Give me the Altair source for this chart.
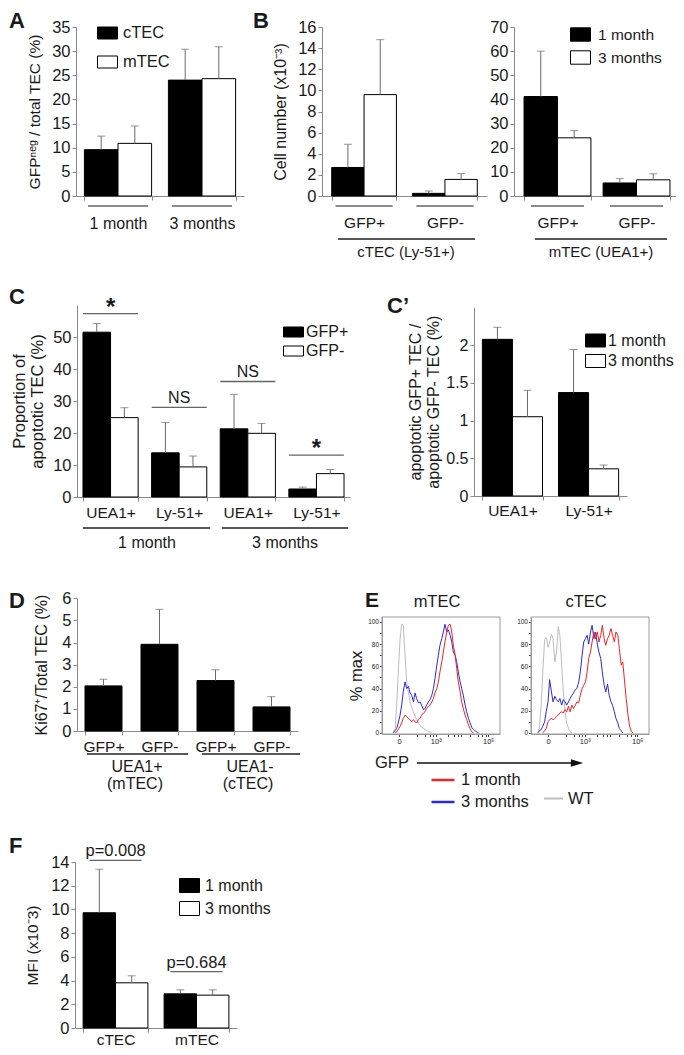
import math
import altair as alt
import pandas as pd

FONT = "Liberation Sans"
TXT = "#1a1a1a"
AXC = "#8a8a8a"
ERR = "#6a6a6a"
RED = "#f02424"
BLUE = "#2a2ae0"
GRAY = "#bdbdbd"
W, H = 668, 1039


def X(px):
    return px - 8


def Y(py):
    return py - 8


# ---------------- values ----------------
# Panel A
A_groups = ["1 month", "3 months"]
A_series = ["cTEC", "mTEC"]
A_cTEC = [9.6, 24.0]
A_cTEC_err = [2.8, 6.4]
A_mTEC = [10.9, 24.3]
A_mTEC_err = [3.6, 6.6]

# Panel B
B_groups = ["GFP+", "GFP-"]
B_series = ["1 month", "3 months"]
B_cTEC_1m = [2.7, 0.25]
B_cTEC_1m_err = [2.2, 0.22]
B_cTEC_3m = [9.6, 1.57]
B_cTEC_3m_err = [5.2, 0.55]
B_mTEC_1m = [41.2, 5.4]
B_mTEC_1m_err = [18.8, 1.8]
B_mTEC_3m = [24.1, 6.7]
B_mTEC_3m_err = [3.0, 2.5]
B_panel_names = ["cTEC (Ly-51+)", "mTEC (UEA1+)"]

# Panel C
C_ages = ["1 month", "3 months"]
C_cells = ["UEA1+", "Ly-51+"]
C_series = ["GFP+", "GFP-"]
C_pos = [51.5, 13.8, 21.3, 2.5]
C_pos_err = [2.7, 9.5, 10.8, 0.6]
C_neg = [24.8, 9.4, 19.9, 7.3]
C_neg_err = [3.1, 3.4, 3.1, 1.3]
C_sig = ["*", "NS", "NS", "*"]
C_sig_y = [57.3, 28.0, 36.1, 13.1]

# Panel C'
Cp_cells = ["UEA1+", "Ly-51+"]
Cp_series = ["1 month", "3 months"]
Cp_1m = [2.075, 1.37]
Cp_1m_err = [0.16, 0.57]
Cp_3m = [1.05, 0.36]
Cp_3m_err = [0.35, 0.05]

# Panel D
D_groups = ["UEA1+", "UEA1-"]
D_group_sub = ["(mTEC)", "(cTEC)"]
D_gfp = ["GFP+", "GFP-"]
D_val = [2.04, 3.92, 2.28, 1.09]
D_err = [0.30, 1.58, 0.49, 0.46]

# Panel E (x in decades of GFP fluorescence, y in % max)
E_titles = ["mTEC", "cTEC"]
E_series = ["1 month", "3 months", "WT"]
E_m_u = [1.38, 1.45, 1.51, 1.57, 1.64, 1.70, 1.76, 1.83, 1.89, 1.96,
         2.02, 2.08, 2.15, 2.21, 2.27, 2.34, 2.40, 2.46, 2.53, 2.59,
         2.65, 2.72, 2.78, 2.85, 2.91, 2.97, 3.04, 3.10, 3.16, 3.23,
         3.29, 3.35, 3.42, 3.48, 3.55, 3.61, 3.67, 3.74, 3.80, 3.86,
         3.93, 3.99, 4.05, 4.12, 4.18, 4.25, 4.31, 4.37, 4.44, 4.50,
         4.56, 4.63]
E_m_wt = [0, 4, 25, 55, 85, 98, 97, 70, 46, 36,
          28, 23, 19, 15, 12, 9, 7, 5, 4, 3,
          2, 1, 1, 0, None, None, None, None, None, None,
          None, None, None, None, None, None, None, None, None, None,
          None, None, None, None, None, None, None, None, None, None,
          None, None]
E_m_3m = [0, 2, 4, 9, 16, 25, 37, 46, 40, 42,
          36, 34, 28, 36, 31, 27, 28, 25, 21, 22,
          25, 28, 30, 34, 40, 49, 61, 70, 79, 85,
          91, 98, 91, 93, 88, 82, 73, 70, 64, 55,
          46, 40, 34, 25, 19, 13, 9, 5, 3, 2,
          1, 0]
E_m_1m = [None, 0, 1, 3, 6, 9, 13, 16, 15, 13,
          12, 10, 12, 10, 9, 12, 13, 16, 18, 19,
          22, 24, 25, 28, 31, 36, 40, 46, 55, 64,
          73, 82, 91, 97, 98, 91, 79, 70, 58, 46,
          37, 28, 22, 16, 12, 7, 4, 1, 0, None,
          None, None]
E_c_u = [1.21, 1.27, 1.34, 1.40, 1.47, 1.53, 1.60, 1.66, 1.73, 1.79,
         1.86, 1.92, 1.99, 2.05, 2.12, 2.18, 2.25, 2.31, 2.38, 2.44,
         2.51, 2.57, 2.64, 2.70, 2.77, 2.83, 2.90, 2.96, 3.03, 3.09,
         3.15, 3.22, 3.28, 3.35, 3.41, 3.48, 3.54, 3.61, 3.67, 3.74,
         3.80, 3.87, 3.93, 4.00, 4.06, 4.13, 4.19, 4.26, 4.32, 4.39,
         4.45, 4.52, 4.58, 4.65, 4.71, 4.78, 4.84]
E_c_wt = [0, 5, 25, 55, 84, 86, 77, 82, 89, 85,
          64, 72, 96, 88, 62, 38, 19, 9, 4, 1,
          0, None, None, None, None, None, None, None, None, None,
          None, None, None, None, None, None, None, None, None, None,
          None, None, None, None, None, None, None, None, None, None,
          None, None, None, None, None, None, None]
E_c_3m = [0, 2, 3, 6, 10, 19, 28, 48, 37, 28,
          33, 30, 28, 31, 25, 30, 28, 25, 28, 31,
          34, 36, 39, 40, 46, 55, 70, 82, 85, 88,
          80, 91, 97, 85, 91, 80, 73, 67, 55, 43,
          37, 44, 34, 28, 25, 19, 13, 9, 4, 2,
          0, None, None, None, None, None, None]
E_c_1m = [None, None, None, 0, 2, 4, 10, 12, 13, 12,
          13, 15, 16, 18, 19, 18, 21, 19, 24, 19,
          25, 22, 25, 28, 27, 34, 40, 43, 46, 55,
          67, 73, 82, 91, 85, 91, 82, 88, 97, 85,
          79, 85, 88, 94, 88, 82, 91, 88, 76, 61,
          64, 46, 31, 16, 6, 1, 0]
E_x_domain = [0.95, 5.45]
E_y_domain = [-1, 104.5]
E_major = [1.6, 2, 3, 4, 5]
E_major_labels = ["0", "10²", "10³", "10⁴", "10⁵"]
E_axis_name = "GFP"

# Panel F
F_cells = ["cTEC", "mTEC"]
F_series = ["1 month", "3 months"]
F_1m = [9.72, 2.88]
F_1m_err = [3.67, 0.34]
F_3m = [3.81, 2.77]
F_3m_err = [0.59, 0.45]
F_sig = ["p=0.008", "p=0.684"]
F_sig_y = [14.14, 4.76]


# ---------------- helpers ----------------
def rect_path(h):
    return f"M-1,-{h}H1V{h}H-1Z"


def bar_legend(x, y, h, size, row_pad, off):
    return alt.Legend(orient="none", legendX=X(x), legendY=Y(y), title=None,
                      symbolType=rect_path(h), symbolSize=400, symbolStrokeColor="black",
                      symbolStrokeWidth=1, labelFontSize=size, labelOffset=off,
                      rowPadding=row_pad, padding=0, direction="vertical")


def bar_panel(cats, series, means, errs, *, xr, yr, ydom, yvals, pin, pout,
              ytitle=None, tsize=16, tpad=8, tline=18, lsize=16, csize=16, cpad=4,
              label_expr=None, legend=None, under=None, sig=None, sig_len=55,
              sig_size=16, single=False):
    x0, x1 = xr
    ybot, ytop = yr
    rows = []
    for si, s in enumerate(series):
        for c, m, e in zip(cats, means[si], errs[si]):
            rows.append({"cat": c, "series": s, "mean": m, "upper": round(m + e, 4)})
    df = pd.DataFrame(rows)
    xkw = dict(orient="bottom", offset=Y(ybot) - H, title=None, labelFontSize=csize,
               labelPadding=cpad, labelAngle=0, tickBand="extent", tickSize=4)
    if label_expr:
        xkw["labelExpr"] = label_expr
    xaxis = alt.Axis(**xkw)
    yaxis = alt.Axis(orient="left", offset=-X(x0), values=list(yvals), format=".2~f",
                     labelFontSize=lsize, labelPadding=2, tickSize=4, title=ytitle,
                     titleFontSize=tsize, titlePadding=tpad, titleLineHeight=tline)
    xs = alt.Scale(domain=cats, range=[X(x0), X(x1)], paddingInner=pin, paddingOuter=pout)
    ys = alt.Scale(domain=ydom, range=[Y(ybot), Y(ytop)], nice=False, zero=False)
    xe = alt.X("cat:N", scale=xs, axis=xaxis)
    ym = alt.Y("mean:Q", scale=ys, axis=yaxis)
    yu = alt.Y("upper:Q", scale=ys, axis=yaxis)
    off = {}
    if single:
        bars = alt.Chart(df).mark_bar(fill="black", stroke="black", strokeWidth=1).encode(x=xe, y=ym)
    else:
        off["xOffset"] = alt.XOffset("series:N", scale=alt.Scale(domain=series, paddingInner=0, paddingOuter=0))
        fill = alt.Fill("series:N", scale=alt.Scale(domain=series, range=["black", "white"]), legend=legend)
        bars = alt.Chart(df).mark_bar(stroke="black", strokeWidth=1).encode(x=xe, y=ym, fill=fill, **off)
    err = alt.Chart(df).mark_rule(color=ERR, strokeWidth=1).encode(x=xe, y=ym, y2="upper:Q", **off)
    cap = alt.Chart(df).mark_tick(orient="horizontal", color=ERR, size=8, thickness=1).encode(x=xe, y=yu, **off)
    layers = [bars, err, cap]
    if under:
        upy, ulen = under
        udf = pd.DataFrame({"cat": cats})
        layers.append(alt.Chart(udf).mark_tick(orient="horizontal", color="#222", size=ulen, thickness=1.3)
                      .encode(x=xe, y=alt.value(Y(upy))))
    if sig:
        labels, yv = sig
        sdf = pd.DataFrame({"cat": cats, "sig": labels, "sig_y": yv})
        ysig = alt.Y("sig_y:Q", scale=ys, axis=yaxis)
        layers.append(alt.Chart(sdf).mark_tick(orient="horizontal", color="#222", size=sig_len, thickness=1.3)
                      .encode(x=xe, y=ysig))
        layers.append(alt.Chart(sdf).transform_filter("datum.sig == '*'")
                      .mark_text(font=FONT, fontSize=24, fontWeight="bold", baseline="alphabetic", dy=1, color=TXT)
                      .encode(x=xe, y=ysig, text="sig:N"))
        layers.append(alt.Chart(sdf).transform_filter("datum.sig != '*'")
                      .mark_text(font=FONT, fontSize=sig_size, baseline="alphabetic", dy=-4, color=TXT)
                      .encode(x=xe, y=ysig, text="sig:N"))
    return alt.layer(*layers)


def flow_panel(u, c1m, c3m, cwt, x0, x1, ytitle, leg_main, leg_wt):
    rows = []
    for name, vals in (("3 months", c3m), ("1 month", c1m)):
        for uu, v in zip(u, vals):
            if v is not None:
                rows.append({"u": uu, "pct": v, "series": name})
    df = pd.DataFrame(rows)
    wdf = pd.DataFrame([{"u": uu, "pct": v, "series": "WT"} for uu, v in zip(u, cwt) if v is not None])
    minor = [round(d + math.log10(k), 4) for d in (2, 3, 4) for k in range(2, 10)]
    minor.append(round(5 + math.log10(2), 4))
    lexpr = " : ".join(f"datum.value == {v} ? '{l}'" for v, l in zip(E_major, E_major_labels)) + " : ''"
    xaxis = alt.Axis(orient="bottom", offset=Y(734) - H, values=E_major + minor, labelExpr=lexpr,
                     title=None, labelFontSize=7.5, labelPadding=1, tickSize=2.5, labelOverlap=False,
                     labelFlush=False, domainColor="#9a9a9a", tickColor="#444", labelColor="#222")
    ykw = dict(orient="left", offset=-X(x0), values=list(range(0, 101, 10)),
               labelExpr="datum.value % 20 == 0 ? datum.label : ''", labelFontSize=6.5,
               labelPadding=1, tickSize=2.5, domainColor="#9a9a9a", tickColor="#444",
               labelColor="#222", title=ytitle)
    if ytitle:
        ykw.update(titleFontSize=16.5, titlePadding=3)
    yaxis = alt.Axis(**ykw)
    xs = alt.Scale(domain=E_x_domain, range=[X(x0), X(x1)], nice=False, zero=False)
    ys = alt.Scale(domain=E_y_domain, range=[Y(734), Y(617)], nice=False, zero=False)
    xe = alt.X("u:Q", scale=xs, axis=xaxis)
    ye = alt.Y("pct:Q", scale=ys, axis=yaxis)
    frame = alt.Chart(pd.DataFrame({"k": [0]})).mark_rect(fillOpacity=0, stroke="#9a9a9a", strokeWidth=1).encode(
        x=alt.datum(E_x_domain[0]), x2=alt.datum(E_x_domain[1]),
        y=alt.datum(E_y_domain[0]), y2=alt.datum(E_y_domain[1]))
    wt = alt.Chart(wdf).mark_line(strokeWidth=1).encode(
        x=xe, y=ye, color=alt.Color("series:N", scale=alt.Scale(domain=["WT"], range=[GRAY]), legend=leg_wt))
    lines = alt.Chart(df).mark_line(strokeWidth=1).encode(
        x=xe, y=ye, stroke=alt.Stroke("series:N", scale=alt.Scale(domain=["1 month", "3 months"], range=[RED, BLUE]),
                                      legend=leg_main))
    return alt.layer(frame, wt, lines)


def text(s, x, y, size=16, weight="normal", align="center", baseline="middle"):
    return alt.Chart(pd.DataFrame({"t": [s]})).mark_text(
        font=FONT, fontSize=size, fontWeight=weight, align=align, baseline=baseline, color=TXT
    ).encode(x=alt.value(X(x)), y=alt.value(Y(y)), text="t:N")


def hline(x1, x2, y, w=1.3, color="#222"):
    return alt.Chart(pd.DataFrame({"k": [0]})).mark_rule(color=color, strokeWidth=w).encode(
        x=alt.value(X(x1)), x2=alt.value(X(x2)), y=alt.value(Y(y)))


# ---------------- panels ----------------
panelA = bar_panel(A_groups, A_series, [A_cTEC, A_mTEC], [A_cTEC_err, A_mTEC_err],
                   xr=(76, 244), yr=(196, 27), ydom=[0, 35], yvals=range(0, 36, 5), pin=0.2, pout=0.1,
                   ytitle="GFPⁿᵉᵍ / total TEC (%)", tsize=15.5, tpad=9, lsize=16.5, csize=16, cpad=15,
                   legend=bar_legend(97, 22.5, 0.6, 16.5, 10, 5), under=(206, 60))

panelB1 = bar_panel(B_groups, B_series, [B_cTEC_1m, B_cTEC_3m], [B_cTEC_1m_err, B_cTEC_3m_err],
                    xr=(322, 487), yr=(196, 27), ydom=[0, 16], yvals=range(0, 17, 2), pin=0.2, pout=0.12,
                    ytitle="Cell number (x10⁻³)", tsize=16, tpad=9, lsize=16.5, csize=15.5, cpad=15,
                    legend=None, under=(206, 57))

panelB2 = bar_panel(B_groups, B_series, [B_mTEC_1m, B_mTEC_3m], [B_mTEC_1m_err, B_mTEC_3m_err],
                    xr=(514, 680), yr=(196, 27), ydom=[0, 70], yvals=range(0, 71, 10), pin=0.154, pout=0.127,
                    ytitle=None, lsize=16.5, csize=15.5, cpad=15,
                    legend=bar_legend(570, 24, 0.67, 15.5, 3, 7), under=(206, 53))

C_keys = [f"{a}|{c}" for a in C_ages for c in C_cells]
panelC = bar_panel(C_keys, C_series, [C_pos, C_neg], [C_pos_err, C_neg_err],
                   xr=(77, 350), yr=(497, 305), ydom=[0, 60], yvals=range(0, 51, 10), pin=0.196, pout=0.087,
                   ytitle=["Proportion of", "apoptotic TEC (%)"], tsize=16.5, tpad=7, tline=18,
                   lsize=16.5, csize=15.5, cpad=4, label_expr="split(datum.label, '|')[1]",
                   legend=bar_legend(283, 321.5, 0.5, 16, -3, 2), sig=(C_sig, C_sig_y), sig_len=55)

panelCp = bar_panel(Cp_cells, Cp_series, [Cp_1m, Cp_3m], [Cp_1m_err, Cp_3m_err],
                    xr=(474, 627), yr=(496, 307.25), ydom=[0, 2.5], yvals=[0, 0.5, 1, 1.5, 2], pin=0.21, pout=0.11,
                    ytitle=["apoptotic GFP+ TEC /", "apoptotic GFP- TEC (%)"], tsize=16, tpad=4, tline=18,
                    lsize=16, csize=15.5, cpad=3, legend=bar_legend(585, 330, 0.65, 16, 1.5, 2))

D_keys = [f"{g}|{s}" for g in D_groups for s in D_gfp]
panelD = bar_panel(D_keys, ["Ki67"], [D_val], [D_err],
                   xr=(77, 298), yr=(731, 598.3), ydom=[0, 6], yvals=range(0, 7), pin=0.34, pout=0.143,
                   ytitle="Ki67⁺/Total TEC (%)", tsize=16, tpad=12, lsize=16.5, csize=15.5, cpad=4,
                   label_expr="split(datum.label, '|')[1]", single=True)

panelF = bar_panel(F_cells, F_series, [F_1m, F_3m], [F_1m_err, F_3m_err],
                   xr=(75, 237), yr=(1028, 862), ydom=[0, 14], yvals=range(0, 15, 2), pin=0.2, pout=0.1,
                   ytitle="MFI (x10⁻3)", tsize=15.5, tpad=10, lsize=16.5, csize=15.5, cpad=0,
                   legend=bar_legend(179, 875, 0.7, 16, 3, 5), sig=(F_sig, F_sig_y), sig_len=52, sig_size=16.5)

leg_lines = alt.Legend(orient="none", legendX=X(430), legendY=Y(767), title=None, symbolType="stroke",
                       symbolSize=529, symbolStrokeWidth=2.5, labelFontSize=16.5, labelOffset=5,
                       rowPadding=0, padding=0, direction="vertical")
leg_wt = alt.Legend(orient="none", legendX=X(543), legendY=Y(788), title=None, symbolType="stroke",
                    symbolSize=361, symbolStrokeWidth=2, labelFontSize=16.5, labelOffset=4, padding=0)
panelEm = flow_panel(E_m_u, E_m_1m, E_m_3m, E_m_wt, 382, 500, "% max", leg_lines, leg_wt)
panelEc = flow_panel(E_c_u, E_c_1m, E_c_3m, E_c_wt, 531, 649, None, None, None)

# ---------------- annotations ----------------
deco = [
    text("A", 9, 27.5, 22, "bold", "left", "alphabetic"),
    text("B", 253, 27.5, 22, "bold", "left", "alphabetic"),
    text("C", 9, 304, 22, "bold", "left", "alphabetic"),
    text("C’", 387, 313, 22, "bold", "left", "alphabetic"),
    text("D", 9, 608, 22, "bold", "left", "alphabetic"),
    text("E", 365, 607, 21, "bold", "left", "alphabetic"),
    text("F", 9, 853, 22, "bold", "left", "alphabetic"),
    hline(338, 475, 239), text(B_panel_names[0], 406, 252, 15),
    hline(535, 667, 239), text(B_panel_names[1], 601, 252, 15),
    hline(83, 210, 528), text(C_ages[0], 147, 543, 16),
    hline(222, 348, 528), text(C_ages[1], 285, 543, 16),
    hline(87, 188, 754), text(D_groups[0], 137, 767, 16), text(D_group_sub[0], 135, 784, 16),
    hline(202, 300, 754), text(D_groups[1], 250, 767, 16), text(D_group_sub[1], 248, 784, 16),
    text(E_titles[0], 437, 602, 16.5), text(E_titles[1], 586, 602, 16.5),
    text(E_axis_name, 375, 763, 16.5, "normal", "left"),
    hline(417, 578, 763, 1.5, "#111"),
    alt.Chart(pd.DataFrame({"k": [0]})).mark_point(shape="M-1,-0.6L1,0L-1,0.6Z", filled=True, size=150,
                                                   color="#111", opacity=1).encode(
        x=alt.value(X(577)), y=alt.value(Y(763))),
]

chart = alt.layer(panelA, panelB1, panelB2, panelC, panelCp, panelD, panelEm, panelEc, panelF, *deco).resolve_scale(
    x="independent", y="independent", xOffset="independent", fill="independent",
    stroke="independent", color="independent"
).resolve_axis(x="independent", y="independent").resolve_legend(
    fill="independent", stroke="independent", color="independent"
).properties(
    width=W, height=H, padding=0, autosize=alt.AutoSizeParams(type="none")
).configure_view(stroke=None).configure_axis(
    labelFont=FONT, titleFont=FONT, labelColor=TXT, titleColor=TXT, domainColor=AXC,
    tickColor=AXC, grid=False, titleFontWeight="normal", domainWidth=1
).configure_legend(labelFont=FONT, labelColor=TXT)

chart.save("out.html", embed_options={"renderer": "svg", "actions": False})
